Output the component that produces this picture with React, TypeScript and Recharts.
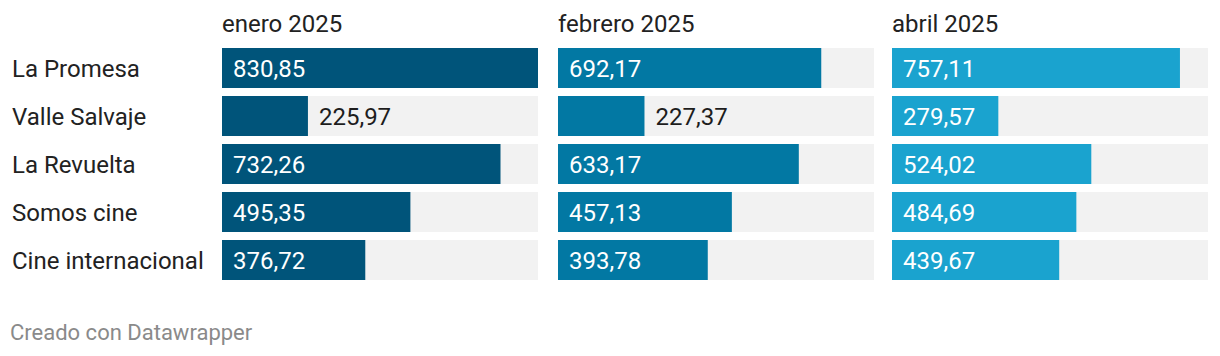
import React from "react";
import { BarChart, Bar, XAxis, YAxis, LabelList } from "recharts";

// Programas y valores por mes
const shows = ["La Promesa", "Valle Salvaje", "La Revuelta", "Somos cine", "Cine internacional"];
const enero = [830.85, 225.97, 732.26, 495.35, 376.72];
const febrero = [692.17, 227.37, 633.17, 457.13, 393.78];
const abril = [757.11, 279.57, 524.02, 484.69, 439.67];
const monthTitles = ["enero 2025", "febrero 2025", "abril 2025"];
const monthColors = ["#00547a", "#0278a3", "#1aa3cf"];

const MAX = 830.85;
const FONT = "Roboto, 'Noto Sans', sans-serif";
const FS = 24;

const fmt = (v: number) => v.toFixed(2).replace(".", ",");

function ValueLabel(props: any) {
  const { x, y, width, height, value } = props;
  const text = fmt(value);
  const textW = text.length * FS * 0.5;
  const inside = width > textW + 22;
  return (
    <text
      x={inside ? x + 11 : x + width + 11}
      y={y + height / 2 + 8.5}
      fill={inside ? "#ffffff" : "#1d1d1d"}
      fontSize={FS}
      fontFamily={FONT}
    >
      {text}
    </text>
  );
}

function RowTick(props: any) {
  const { y, payload } = props;
  return (
    <text x={12} y={y + 8.5} fill="#222" fontSize={FS} fontFamily={FONT}>
      {payload.value}
    </text>
  );
}

const panels = [
  { values: enero, left: 0, yAxis: 222 },
  { values: febrero, left: 558, yAxis: 0 },
  { values: abril, left: 892, yAxis: 0 },
];

export default function App() {
  return (
    <div
      style={{
        position: "fixed",
        left: 0,
        top: 0,
        width: 1220,
        height: 356,
        background: "#fff",
        fontFamily: FONT,
      }}
    >
      {panels.map((p, i) => {
        const data = shows.map((name, k) => ({ name, value: p.values[k] }));
        const titleLeft = p.left + p.yAxis;
        return (
          <React.Fragment key={i}>
            <div
              style={{
                position: "absolute",
                left: titleLeft,
                top: 12,
                fontSize: FS,
                lineHeight: `${FS}px`,
                color: "#222",
                whiteSpace: "nowrap",
              }}
            >
              {monthTitles[i]}
            </div>
            <div style={{ position: "absolute", left: p.left, top: 0 }}>
              <BarChart
                width={p.yAxis + 316}
                height={290}
                data={data}
                layout="vertical"
                margin={{ top: 44, right: 0, bottom: 6, left: 0 }}
                barSize={40}
              >
                <XAxis type="number" domain={[0, MAX]} hide />
                <YAxis
                  type="category"
                  dataKey="name"
                  width={p.yAxis}
                  hide={p.yAxis === 0}
                  axisLine={false}
                  tickLine={false}
                  tick={<RowTick />}
                  interval={0}
                />
                <Bar
                  dataKey="value"
                  fill={monthColors[i]}
                  background={{ fill: "#f2f2f2" }}
                  isAnimationActive={false}
                >
                  <LabelList dataKey="value" content={<ValueLabel />} />
                </Bar>
              </BarChart>
            </div>
          </React.Fragment>
        );
      })}
      <div
        style={{
          position: "absolute",
          left: 10,
          top: 322,
          fontSize: 22,
          lineHeight: "22px",
          color: "#8a8a8a",
          whiteSpace: "nowrap",
        }}
      >
        Creado con Datawrapper
      </div>
    </div>
  );
}
